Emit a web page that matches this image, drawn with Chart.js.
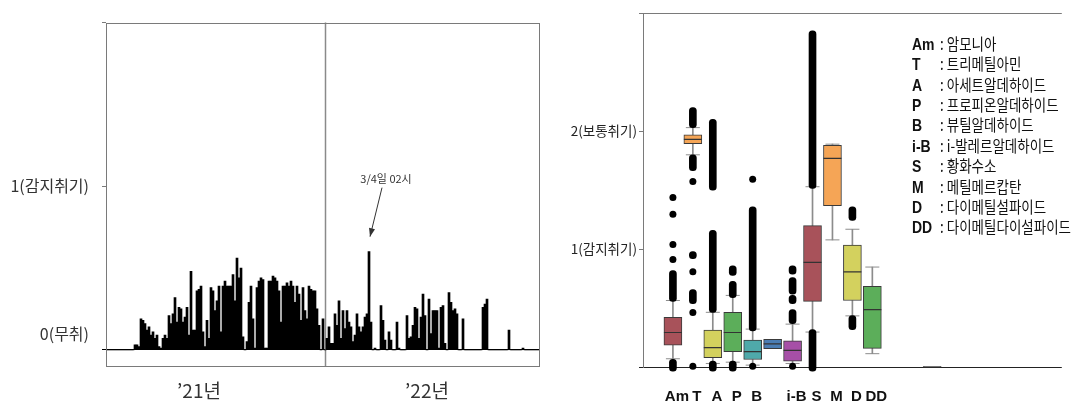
<!DOCTYPE html>
<html>
<head>
<meta charset="utf-8">
<script src="https://cdn.jsdelivr.net/npm/chart.js@4/dist/chart.umd.min.js"></script>
<style>
  html, body { margin: 0; padding: 0; background: #fff; }
  #wrap { position: relative; width: 1072px; height: 407px; overflow: hidden; }
  #left { position: absolute; left: 0; top: 0; }
  #right { position: absolute; left: 560px; top: 0; }
  #legend { position: absolute; left: 912px; top: 33px; font-family: "Noto Sans CJK KR", sans-serif;
            font-size: 13.5px; color: #111; transform: scaleY(1.2); transform-origin: 0 0; white-space: nowrap; }
  #legend div { height: 17px; line-height: 17px; }
  #legend b { display: inline-block; width: 28px; font-family: "Liberation Sans Narrow", "Liberation Sans", sans-serif; font-size: 14px; }
</style>
</head>
<body>
<div id="wrap">
  <canvas id="left" width="545" height="407"></canvas>
  <canvas id="right" width="512" height="407"></canvas>
  <div id="legend"></div>
</div>
<script>
const KR = '"Noto Sans CJK KR", sans-serif';

// 왼쪽: 시간별 악취 강도 (2px 간격 칸)
const hourly = [
  0, 0, 0, 0, 0, 0, 0, 0, 0, 0,
  0, 0, 0, 0, 0.03, 0.03, 0.02, 0.19, 0.18, 0.16,
  0.12, 0.14, 0.09, 0.11, 0.07, 0.09, 0.02, 0.01, 0.07, 0.09,
  0.07, 0.21, 0.16, 0.22, 0.32, 0.17, 0.26, 0.25, 0.17, 0.20,
  0.26, 0.09, 0.48, 0.12, 0.12, 0.36, 0.37, 0.39, 0.11, 0.02,
  0.18, 0.07, 0.38, 0.36, 0.24, 0.30, 0.39, 0.11, 0.39, 0.42,
  0.39, 0.39, 0.39, 0.46, 0.30, 0.56, 0.44, 0.50, 0.08, 0,
  0.05, 0.29, 0.39, 0.19, 0.01, 0.38, 0.42, 0.44, 0.43, 0.01,
  0.01, 0.42, 0.42, 0.45, 0.44, 0.42, 0.36, 0.17, 0.39, 0.39,
  0.41, 0.39, 0.42, 0.39, 0.29, 0.39, 0.34, 0.18, 0.38, 0.24,
  0.19, 0.39, 0.37, 0.36, 0.36, 0.25, 0.15, 0, 0.19, 0,
  0.07, 0.14, 0.04, 0.04, 0.22, 0.15, 0.30, 0.07, 0.24, 0.13,
  0.24, 0.17, 0.14, 0.05, 0.09, 0.22, 0.14, 0.11, 0.14, 0.20,
  0.22, 0.60, 0.17, 0, 0.01, 0, 0, 0.27, 0.18, 0.06,
  0, 0.11, 0.06, 0, 0, 0.17, 0.01, 0, 0, 0,
  0.21, 0.07, 0.08, 0.15, 0.26, 0.25, 0.07, 0.20, 0.34, 0.21,
  0, 0.31, 0.10, 0.24, 0.24, 0.24, 0.01, 0.26, 0.27, 0.04,
  0, 0.35, 0.29, 0.24, 0.25, 0.22, 0, 0, 0.19, 0,
  0, 0, 0, 0, 0, 0, 0, 0, 0.26, 0.28,
  0.31, 0, 0, 0, 0, 0, 0, 0, 0, 0,
  0, 0.12, 0, 0, 0, 0, 0, 0, 0.01, 0,
  0, 0, 0, 0, 0, 0, 0,
];
const yearNames = ["’21년", "’22년"];
const yearSlots = [46, 160];
const yearSplit = 109;
const noteSlot = 131;
const noteText = "3/4일 02시";
const leftLevels = [0, 0.1, 1, 2];
const leftLevelLabels = ["", "0(무취)", "1(감지취기)", ""];

// 오른쪽: 성분별 상자그림
const boxLabels = ["Am", "T", "A", "P", "B", "", "i-B", "S", "M", "D", "DD", "", "", ""];
const q1      = [0.19, 1.895, 0.083, 0.134, 0.068, 0.16, 0.054, 0.56, 1.37, 0.567, 0.162, null, null, 0];
const median  = [0.296, 1.93, 0.168, 0.296, 0.134, 0.20, 0.145, 0.89, 1.77, 0.81, 0.49, null, null, 0.004];
const q3      = [0.425, 1.97, 0.316, 0.467, 0.233, 0.239, 0.225, 1.20, 1.88, 1.035, 0.687, null, null, 0.008];
const whiskLo = [0.074, 1.80, 0.034, 0.045, 0.02, null, 0.034, 0.30, 1.08, 0.437, 0.117, null, null, null];
const whiskHi = [0.567, 2.03, 0.467, 0.61, 0.325, null, 0.367, 1.53, 1.89, 1.17, 0.85, null, null, null];
const boxColors = ["#A8525A", "#F5A556", "#D3D15E", "#5CAE5A", "#4FA9AA", "#4A7DB3", "#A64FA7",
                   "#A8525A", "#F5A556", "#D3D15E", "#5CAE5A", "#ccc", "#ccc", "#888"];
// 이상치: 빽빽한 구간(runs)과 단독 점(dots)
const runPos = [1, 1, 2, 2, 2, 2, 3, 3, 3, 4, 4, 4, 5, 7, 7, 7, 7, 8, 8, 10, 10];
const runLo  = [0.56, -0.03, 2.03, 1.665, 0.92, 0.54, 1.50, 0.466, -0.03, 0.78, 0.59, -0.03, 0.31, 0.79, 0.62, 0.54, 0.37, 1.515, -0.03, 1.245, 0.32];
const runHi  = [0.82, 0.07, 2.20, 1.80, 0.98, 0.66, 2.10, 1.16, 0.054, 0.86, 0.73, 0.054, 1.36, 0.86, 0.76, 0.61, 0.49, 2.85, 0.32, 1.36, 0.44];
const dotPos = [1, 1, 1, 1, 2, 2, 2, 2, 5, 5, 7];
const dotVal = [1.438, 1.296, 1.04, 0.913, 1.574, 0.81, 0.466, 0.01, 1.594, 0.01, 0.01];
const rightLevelLabels = ["", "1(감지취기)", "2(보통취기)", ""];
const legendRows = [
  ["Am", "암모니아"], ["T", "트리메틸아민"], ["A", "아세트알데하이드"], ["P", "프로피온알데하이드"],
  ["B", "뷰틸알데하이드"], ["i-B", "i-발레르알데하이드"], ["S", "황화수소"], ["M", "메틸메르캅탄"],
  ["D", "다이메틸설파이드"], ["DD", "다이메틸다이설파이드"],
];

const noPad = (s) => { s.paddingLeft = 0; s.paddingRight = 0; };

const frame = {
  id: "frame",
  afterDraw(chart) {
    const { ctx, chartArea: a } = chart;
    ctx.save();
    ctx.strokeStyle = "#7a7a7a";
    ctx.lineWidth = 1;
    ctx.strokeRect(Math.round(a.left) + 0.5, Math.round(a.top) + 0.5, Math.round(a.width) - 1, Math.round(a.height) - 1);
    ctx.restore();
  },
};

const yearLine = {
  id: "yearLine",
  beforeDatasetsDraw(chart) {
    const { ctx, chartArea: a, scales } = chart;
    const x = Math.round(scales.x.getPixelForValue(yearSplit)) + 0.5;
    ctx.save();
    ctx.strokeStyle = "#8a8a8a";
    ctx.lineWidth = 1.5;
    ctx.beginPath(); ctx.moveTo(x, a.top); ctx.lineTo(x, a.bottom); ctx.stroke();
    ctx.restore();
  },
};

const note = {
  id: "note",
  afterDatasetsDraw(chart) {
    const { ctx, scales } = chart;
    const x = scales.x.getPixelForValue(noteSlot);
    const y = scales.y.getPixelForValue(hourly[noteSlot]);
    const tip = [x + 1, y - 15], tail = [x + 13, y - 64];
    const ang = Math.atan2(tip[1] - tail[1], tip[0] - tail[0]);
    ctx.save();
    ctx.strokeStyle = "#333"; ctx.fillStyle = "#333"; ctx.lineWidth = 1;
    ctx.beginPath(); ctx.moveTo(tail[0], tail[1]); ctx.lineTo(tip[0], tip[1]); ctx.stroke();
    ctx.beginPath();
    ctx.moveTo(tip[0], tip[1]);
    ctx.lineTo(tip[0] - 9 * Math.cos(ang - 0.35), tip[1] - 9 * Math.sin(ang - 0.35));
    ctx.lineTo(tip[0] - 9 * Math.cos(ang + 0.35), tip[1] - 9 * Math.sin(ang + 0.35));
    ctx.closePath(); ctx.fill();
    ctx.font = "11px " + KR;
    ctx.textAlign = "center"; ctx.textBaseline = "middle";
    ctx.fillText(noteText, x + 17, y - 73);
    ctx.restore();
  },
};

new Chart(document.getElementById("left"), {
  type: "bar",
  data: {
    labels: hourly.map((_, i) => i),
    datasets: [{ data: hourly, backgroundColor: "#000", borderWidth: 0, barPercentage: 1, categoryPercentage: 1 }],
  },
  options: {
    responsive: false, animation: false,
    layout: { padding: { top: 10, right: 5, left: 0, bottom: 0 } },
    plugins: { legend: { display: false }, tooltip: { enabled: false } },
    scales: {
      x: {
        grid: { display: false, drawTicks: false }, border: { display: false },
        ticks: {
          autoSkip: false, minRotation: 0, maxRotation: 0, padding: 12, color: "#333",
          font: { family: KR, size: 19 },
          callback: (v, i) => { const k = yearSlots.indexOf(i); return k >= 0 ? yearNames[k] : ""; },
        },
        afterFit: (s) => { s.height = 40; noPad(s); },
      },
      y: {
        min: -0.105, max: 2,
        afterBuildTicks: (s) => { s.ticks = leftLevels.map((value) => ({ value })); },
        ticks: {
          padding: 13, color: "#333", font: { family: KR, size: 16 },
          callback: (v, i) => leftLevelLabels[i],
        },
        grid: {
          tickLength: 4,
          color: (c) => (c.tick && c.tick.value === 0 ? "#000" : "rgba(0,0,0,0)"),
          tickColor: (c) => (c.tick && c.tick.value === 0.1 ? "rgba(0,0,0,0)" : c.tick && c.tick.value === 0 ? "#000" : "#7a7a7a"),
        },
        border: { display: false },
        afterFit: (s) => { s.width = 106; },
      },
    },
  },
  plugins: [yearLine, note, frame],
});

// 상자그림 데이터셋 구성
const boxes = [], meds = [], whisk = [], caps = [], colors = [];
boxLabels.forEach((_, i) => {
  const x = i + 1;
  if (q1[i] == null) return;
  boxes.push({ x, y: [q1[i], q3[i]] }); colors.push(boxColors[i]);
  meds.push({ x, y: median[i] });
  if (whiskLo[i] != null) {
    whisk.push({ x, y: [whiskLo[i], q1[i]] }, { x, y: [q3[i], whiskHi[i]] });
    caps.push({ x, y: whiskLo[i] }, { x, y: whiskHi[i] });
  }
});
const runs = runPos.map((x, i) => ({ x, y: [runLo[i], runHi[i]] }));
const dots = dotPos.map((x, i) => ({ x, y: dotVal[i] }));

new Chart(document.getElementById("right"), {
  type: "bar",
  data: {
    datasets: [
      { data: whisk, backgroundColor: "#8c8c8c", barThickness: 1, grouped: false, order: 6 },
      { data: boxes, backgroundColor: colors, borderColor: "#3a3a3a", borderWidth: 1, borderSkipped: false,
        barThickness: 18, grouped: false, order: 5 },
      { type: "scatter", data: meds, pointStyle: "line", radius: 9, borderColor: "#333", borderWidth: 1.2, order: 4 },
      { type: "scatter", data: caps, pointStyle: "line", radius: 7, borderColor: "#8c8c8c", borderWidth: 1, order: 4 },
      { data: runs, backgroundColor: "#000", barThickness: 7, borderRadius: 4, borderSkipped: false,
        grouped: false, order: 2, clip: false },
      { type: "scatter", data: dots, radius: 3.5, backgroundColor: "#000", borderWidth: 0, order: 1, clip: false },
    ],
  },
  options: {
    responsive: false, animation: false,
    layout: { padding: { top: 13, right: 0, left: 0, bottom: 0 } },
    plugins: { legend: { display: false }, tooltip: { enabled: false } },
    scales: {
      x: {
        type: "linear", min: -0.5, max: 20.5, offset: false,
        afterBuildTicks: (s) => { s.ticks = boxLabels.map((_, i) => ({ value: i + 1 })); },
        grid: { display: false, drawTicks: false, offset: false }, border: { display: false },
        ticks: {
          padding: 20, labelOffset: 4, color: "#111", minRotation: 0, maxRotation: 0,
          font: { family: '"Liberation Sans Narrow", "Liberation Sans", sans-serif', size: 15, weight: "bold" },
          callback: (v, i) => boxLabels[i],
        },
        afterFit: (s) => { s.height = 39.5; noPad(s); },
      },
      y: {
        min: 0, max: 3,
        ticks: { stepSize: 1, padding: 2, color: "#222", font: { family: KR, size: 13.5 },
                 callback: (v) => rightLevelLabels[v] },
        grid: {
          tickLength: 4,
          color: (c) => (c.tick && c.tick.value === 0 ? "#222" : c.tick && c.tick.value === 3 ? "#7a7a7a" : "rgba(0,0,0,0)"),
          tickColor: (c) => (c.tick && c.tick.value === 0 ? "#222" : "#7a7a7a"),
        },
        border: { color: "#7a7a7a" },
        afterFit: (s) => { s.width = 83; },
      },
    },
  },
});

const legend = document.getElementById("legend");
for (const [abbr, name] of legendRows) {
  const row = document.createElement("div");
  const b = document.createElement("b");
  b.textContent = abbr;
  row.appendChild(b);
  row.appendChild(document.createTextNode(": " + name));
  legend.appendChild(row);
}
</script>
</body>
</html>
